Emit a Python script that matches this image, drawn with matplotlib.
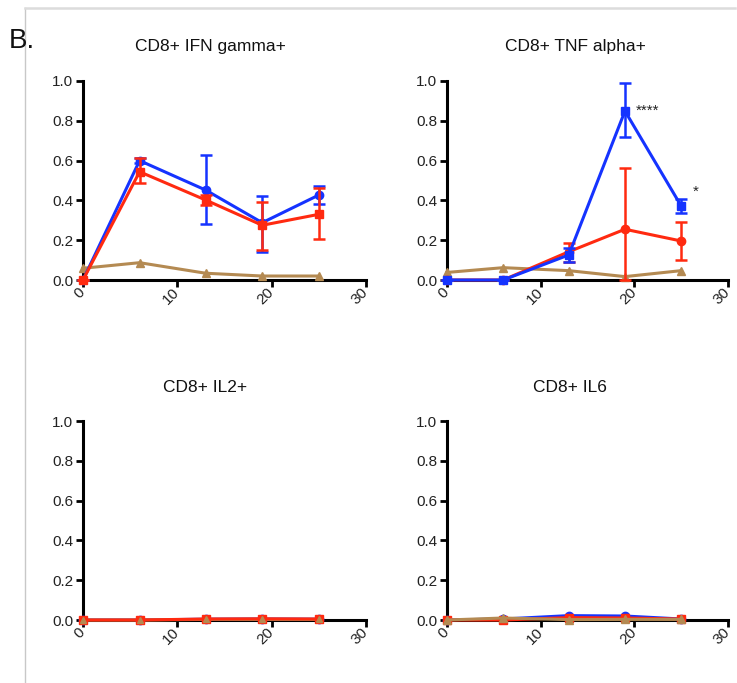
import matplotlib
matplotlib.use("Agg")
import matplotlib.pyplot as plt
from matplotlib.lines import Line2D

plt.rcParams['font.family'] = ['Liberation Sans', 'DejaVu Sans']

# Time points (days)
days = [0, 6, 13, 19, 25]

# CD8+ IFN gamma+
ifn_blue = [0.0, 0.60, 0.452, 0.288, 0.427]
ifn_blue_lo = [0.0, 0.59, 0.281, 0.142, 0.382]
ifn_blue_hi = [0.0, 0.615, 0.628, 0.422, 0.472]
ifn_red = [0.0, 0.544, 0.402, 0.275, 0.330]
ifn_red_lo = [0.0, 0.486, 0.377, 0.151, 0.204]
ifn_red_hi = [0.0, 0.611, 0.427, 0.394, 0.461]
ifn_brown = [0.059, 0.087, 0.034, 0.020, 0.020]

# CD8+ TNF alpha+
tnf_blue = [0.0, 0.0, 0.126, 0.849, 0.372]
tnf_blue_lo = [0.0, 0.0, 0.092, 0.720, 0.338]
tnf_blue_hi = [0.0, 0.0, 0.159, 0.988, 0.407]
tnf_red = [0.0, 0.0, 0.142, 0.255, 0.196]
tnf_red_lo = [0.0, 0.0, 0.092, 0.0, 0.100]
tnf_red_hi = [0.0, 0.0, 0.188, 0.561, 0.290]
tnf_brown = [0.038, 0.062, 0.047, 0.017, 0.047]
tnf_stars = ["", "", "", "****", "*"]

# CD8+ IL2+
il2_blue = [0.0, 0.0, 0.004, 0.005, 0.004]
il2_red = [0.0, 0.0, 0.005, 0.006, 0.005]
il2_brown = [0.0, 0.0, 0.003, 0.003, 0.003]

# CD8+ IL6
il6_blue = [0.0, 0.005, 0.022, 0.020, 0.005]
il6_red = [0.0, 0.0, 0.012, 0.010, 0.005]
il6_brown = [0.0, 0.010, 0.002, 0.003, 0.003]

titles = ["CD8+ IFN gamma+", "CD8+ TNF alpha+", "CD8+ IL2+", "CD8+ IL6"]
x_ticks = [0, 10, 20, 30]
y_ticks = [0.0, 0.2, 0.4, 0.6, 0.8, 1.0]

BLUE = '#1533ff'
RED = '#ff2a10'
BROWN = '#b48a52'

W, H = 737, 683
fig = plt.figure(figsize=(W / 100, H / 100), dpi=100)

# frame lines around the panel
fig.add_artist(Line2D([24.5 / W, 24.5 / W], [0, 1 - 7.5 / H], color='#c8c8c8', lw=1.0))
fig.add_artist(Line2D([24.5 / W, 735 / W], [1 - 7.5 / H, 1 - 7.5 / H], color='#dcdcdc', lw=1.8))
fig.text(9 / W, 1 - 41 / H, "B.", fontsize=20, va='center', ha='left', color='#111111')

boxes = [
    (83, 366, 81, 280),
    (447, 728, 81, 280),
    (83, 366, 421, 620),
    (447, 728, 421, 620),
]


def make_axes(box):
    l, r, t, b = box
    ax = fig.add_axes([l / W, 1 - b / H, (r - l) / W, (b - t) / H])
    ax.set_xlim(0, 30)
    ax.set_ylim(0, 1)
    for s in ['top', 'right']:
        ax.spines[s].set_visible(False)
    for s in ['left', 'bottom']:
        ax.spines[s].set_linewidth(2.2)
    ax.tick_params(width=2.0, length=5, labelsize=11, colors='black', direction='out', pad=2)
    ax.set_xticks(x_ticks)
    ax.set_yticks(y_ticks)
    ax.set_yticklabels([f"{v:.1f}" for v in y_ticks], color='#222222')
    ax.set_xticklabels([str(v) for v in x_ticks], rotation=45, ha='right',
                       rotation_mode='anchor', va='center', color='#222222')
    ax.patch.set_visible(False)
    return ax


def series(ax, y, color, marker, lo=None, hi=None, z=3, ms=6, line=True, marks=True):
    if lo is not None:
        yerr = [[yi - l for yi, l in zip(y, lo)], [h - yi for yi, h in zip(y, hi)]]
        ax.errorbar(days, y, yerr=yerr, fmt='none', ecolor=color, elinewidth=1.8,
                    capsize=4.5, capthick=1.8, zorder=z, clip_on=False)
    if line:
        ax.plot(days, y, color=color, lw=2.2, zorder=z + 0.5, clip_on=False)
    if marks:
        ax.plot(days, y, ls='none', marker=marker, ms=ms, mec=color, mfc=color,
                zorder=z + 0.6, clip_on=False)


# IFN gamma
ax = make_axes(boxes[0])
series(ax, ifn_brown, BROWN, '^', z=2, ms=5.5)
series(ax, ifn_blue, BLUE, 'o', ifn_blue_lo, ifn_blue_hi, z=3)
series(ax, ifn_red, RED, 's', ifn_red_lo, ifn_red_hi, z=4)

# TNF alpha
ax = make_axes(boxes[1])
series(ax, tnf_brown, BROWN, '^', z=2, ms=5.5)
series(ax, tnf_red, RED, 'o', tnf_red_lo, tnf_red_hi, z=3)
series(ax, tnf_blue, BLUE, 's', tnf_blue_lo, tnf_blue_hi, z=4)
for xd, yd, st in zip(days, tnf_blue, tnf_stars):
    if st:
        ax.text(xd + 1.2, yd + 0.07 if st == "*" else yd, st, fontsize=11,
                ha='left', va='center', color='#222222')

# IL2
ax = make_axes(boxes[2])
series(ax, il2_blue, BLUE, 'o', z=2)
series(ax, il2_brown, BROWN, '^', z=3, ms=5.5, marks=False)
series(ax, il2_red, RED, 's', z=4)
series(ax, il2_brown, BROWN, '^', z=5, ms=5, line=False)

# IL6
ax = make_axes(boxes[3])
series(ax, il6_blue, BLUE, 'o', z=2)
series(ax, il6_red, RED, 's', z=3)
series(ax, il6_brown, BROWN, '^', z=4, ms=5.5)

title_pos = [(210, 47), (575, 47), (205, 388), (570, 388)]
for (tx, ty), t in zip(title_pos, titles):
    fig.text(tx / W, 1 - ty / H, t, fontsize=12.5, ha='center', va='center', color='#111111')

fig.savefig("out.png", dpi=100)
